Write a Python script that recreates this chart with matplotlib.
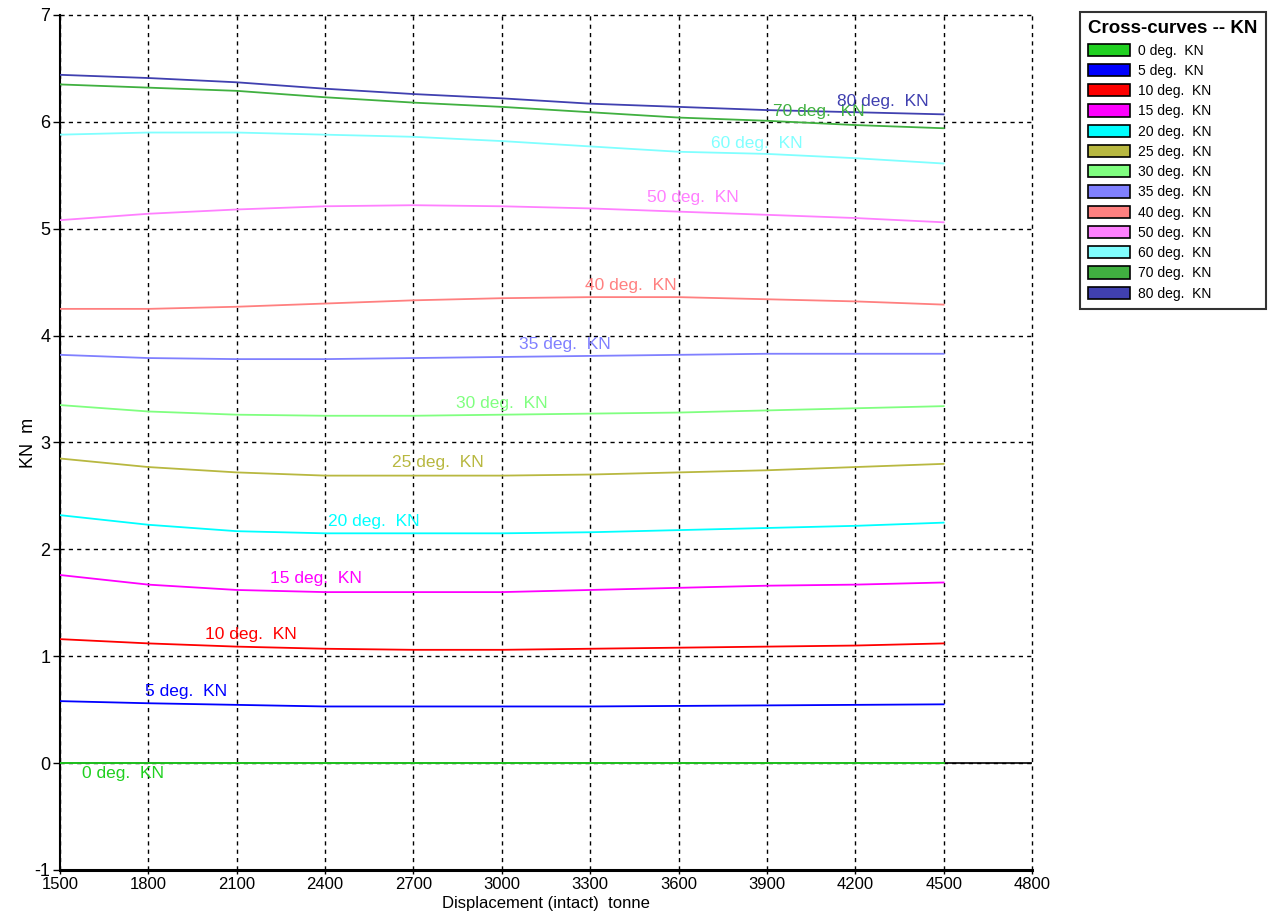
import matplotlib.pyplot as plt
from matplotlib.patches import Patch

plt.rcParams["font.family"] = ["Liberation Sans", "DejaVu Sans"]
plt.rcParams["axes.unicode_minus"] = False

displacement = [1500, 1800, 2100, 2400, 2700, 3000, 3300, 3600, 3900, 4200, 4500]

angles = ["0", "5", "10", "15", "20", "25", "30", "35", "40", "50", "60", "70", "80"]

kn_values = [
    [0.00, 0.00, 0.00, 0.00, 0.00, 0.00, 0.00, 0.00, 0.00, 0.00, 0.00],
    [0.58, 0.56, 0.545, 0.53, 0.53, 0.53, 0.53, 0.535, 0.54, 0.545, 0.55],
    [1.16, 1.12, 1.09, 1.07, 1.06, 1.06, 1.07, 1.08, 1.09, 1.10, 1.12],
    [1.76, 1.67, 1.62, 1.60, 1.60, 1.60, 1.62, 1.64, 1.66, 1.67, 1.69],
    [2.32, 2.23, 2.17, 2.15, 2.15, 2.15, 2.16, 2.18, 2.20, 2.22, 2.25],
    [2.85, 2.77, 2.72, 2.69, 2.69, 2.69, 2.70, 2.72, 2.74, 2.77, 2.80],
    [3.35, 3.29, 3.26, 3.25, 3.25, 3.26, 3.27, 3.28, 3.30, 3.32, 3.34],
    [3.82, 3.79, 3.78, 3.78, 3.79, 3.80, 3.81, 3.82, 3.83, 3.83, 3.83],
    [4.25, 4.25, 4.27, 4.30, 4.33, 4.35, 4.36, 4.36, 4.34, 4.32, 4.29],
    [5.08, 5.14, 5.18, 5.21, 5.22, 5.21, 5.19, 5.16, 5.13, 5.10, 5.06],
    [5.88, 5.90, 5.90, 5.88, 5.86, 5.82, 5.77, 5.72, 5.70, 5.66, 5.61],
    [6.35, 6.32, 6.29, 6.23, 6.18, 6.14, 6.09, 6.04, 6.01, 5.97, 5.94],
    [6.44, 6.41, 6.37, 6.31, 6.26, 6.22, 6.17, 6.14, 6.11, 6.09, 6.07],
]

colors = ["#20d020", "#0000ff", "#ff0000", "#ff00ff", "#00ffff", "#b8b840",
          "#80ff80", "#8080ff", "#ff8080", "#ff80ff", "#80ffff", "#40b040", "#4040b0"]

# where the inline curve labels sit
label_x = [1575, 1788, 1992, 2213, 2410, 2627, 2844, 3058, 3282, 3492, 3709, 3920, 4137]
label_y = [-0.10, 0.67, 1.20, 1.73, 2.26, 2.81, 3.36, 3.92, 4.47, 5.29, 5.80, 6.10, 6.19]

x_ticks = list(range(1500, 4801, 300))
y_ticks = list(range(-1, 8))

fig = plt.figure(figsize=(12.73, 9.18), dpi=100)
ax = fig.add_axes([0.0471, 0.0523, 0.7636, 0.9314])

ax.axhline(0, color="black", lw=1.2, zorder=1)
for ang, vals, col in zip(angles, kn_values, colors):
    ax.plot(displacement, vals, color=col, lw=1.3, zorder=3)
for ang, lx, ly, col in zip(angles, label_x, label_y, colors):
    ax.text(lx, ly, ang + " deg.  KN", color=col, fontsize=12.5, ha="left", va="center", zorder=4)

ax.set_xlim(1500, 4800)
ax.set_ylim(-1, 7)
ax.set_xticks(x_ticks)
ax.set_yticks(y_ticks)
ax.grid(True, color="black", linestyle=(0, (3, 3)), lw=1.0, zorder=0)
for gl in ax.get_xgridlines() + ax.get_ygridlines():
    gl.set_clip_on(False)
ax.tick_params(axis="y", length=5, width=1, labelsize=13, pad=2)
ax.tick_params(axis="x", length=3, width=1, labelsize=12, pad=2)

ax.spines["top"].set_visible(False)
ax.spines["right"].set_visible(False)
ax.spines["left"].set_linewidth(1.5)
ax.spines["bottom"].set_linewidth(2.2)

ax.set_xlabel("Displacement (intact)  tonne", fontsize=12, labelpad=3)
ax.set_ylabel("KN  m", fontsize=13, labelpad=-2)

handles = [Patch(facecolor=c, edgecolor="black", lw=1.2) for c in colors]
leg = fig.legend(handles, [a + " deg.  KN" for a in angles],
                 loc="upper left", bbox_to_anchor=(1073 / 1273, 1 - 5 / 918),
                 title="Cross-curves -- KN", fontsize=10, fancybox=False,
                 handlelength=3.0, handleheight=1.0, labelspacing=0.45,
                 borderpad=0.6, handletextpad=0.6, alignment="left")
leg.get_title().set_fontweight("bold")
leg.get_title().set_fontsize(13.5)
leg.get_frame().set_edgecolor("black")
leg.get_frame().set_linewidth(1.5)

fig.savefig("out.png", dpi=100)
